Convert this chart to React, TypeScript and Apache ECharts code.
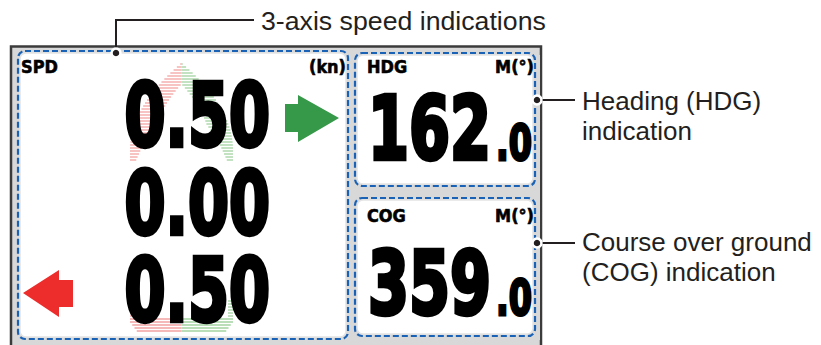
import React, { useEffect, useRef } from 'react';
import * as echarts from 'echarts';

// Displayed values
const speedValues = ['0.50', '0.00', '0.50'];
const headingValue = ['162', '.0'];
const cogValue = ['359', '.0'];
const panelTitles = ['SPD', 'HDG', 'COG'];
const panelUnits = ['(kn)', 'M(°)', 'M(°)'];
const calloutTop = ['3-axis speed indications'];
const calloutHdg = ['Heading (HDG)', 'indication'];
const calloutCog = ['Course over ground', '(COG) indication'];

const DIGIT_FONT = '"DejaVu Sans", sans-serif';
const LABEL_FONT = '"Liberation Sans", Arial, sans-serif';
const INK = '#231f20';
const BLUE = '#1a62b5';
const RED_STRIPE = '#f3a2a2';
const GREEN_STRIPE = '#a3d3a0';
const FRAME = '#d8d8d8';

function txt(x: number, y: number, text: string, size: number, opts: any = {}) {
  const align = opts.align || 'left';
  return {
    type: 'text',
    x,
    y,
    scaleX: opts.scaleX ?? 1,
    z: opts.z ?? 10,
    style: {
      text,
      fill: opts.fill || '#000',
      stroke: opts.stroke,
      lineWidth: opts.lineWidth,
      fontSize: size,
      fontWeight: opts.weight || 'bold',
      fontFamily: opts.family || DIGIT_FONT,
      lineHeight: opts.lineHeight,
      align,
      textAlign: align,
      verticalAlign: opts.valign || 'middle',
      textVerticalAlign: opts.valign || 'middle',
    },
  };
}

function stripe(g: any[], y: number, a: number, b: number, color: string) {
  if (b - a < 0.5) return;
  g.push({ type: 'line', z: 3, shape: { x1: a, y1: y, x2: b, y2: y }, style: { stroke: color, lineWidth: 1.3 } });
}

function buildGraphic() {
  const g: any[] = [];
  // outer display frame
  g.push({ type: 'rect', z: 1, shape: { x: 11, y: 46.5, width: 530, height: 320 }, style: { fill: FRAME, stroke: '#3b3b3b', lineWidth: 2.5 } });

  // panels: [x, y, w, h]
  const panels = [
    [18, 51, 330, 288],
    [355, 53, 180, 133],
    [355, 198, 180, 138],
  ];
  panels.forEach(([x, y, w, h]) => {
    g.push({ type: 'rect', z: 2, shape: { x: x + 2, y: y + 2, width: w - 4, height: h - 4, r: 6 }, style: { fill: '#ffffff', stroke: '#e4e4e4', lineWidth: 1.5 } });
  });

  // ship silhouette stripes (bow): striped hull band, solid at the tip
  const cx = 181.5;
  const half = 51.5;
  for (let y = 64; y <= 162; y += 3) {
    const t = Math.min(1, (y - 63) / 87);
    const w = half * (1 - Math.pow(1 - t, 2));
    const band = y < 125 ? 22 : 22 - (y - 125) * 0.45;
    const inner = Math.max(0, w - band);
    stripe(g, y, cx - w, cx - inner, RED_STRIPE);
    stripe(g, y, cx + inner, cx + w, GREEN_STRIPE);
  }
  // stern
  for (let y = 301; y <= 331; y += 3) {
    if (y < 318) {
      stripe(g, y, cx - half, cx - half + 5, RED_STRIPE);
      stripe(g, y, cx + half - 5, cx + half, GREEN_STRIPE);
    } else {
      const w = half - Math.max(0, y - 322) * 0.75;
      stripe(g, y, cx - w, cx, RED_STRIPE);
      stripe(g, y, cx, cx + w, GREEN_STRIPE);
    }
  }

  // arrows
  g.push({ type: 'polygon', z: 4, shape: { points: [[285, 104], [298, 104], [298, 95], [339, 118], [298, 142], [298, 132], [285, 132]] }, style: { fill: '#36994a' } });
  g.push({ type: 'polygon', z: 4, shape: { points: [[73, 280], [59, 280], [59, 270], [23, 293], [59, 317], [59, 307], [73, 307]] }, style: { fill: '#ec2d2c' } });

  // speed numbers
  const rowsY = [115, 203.5, 290];
  const big = { scaleX: 0.67, stroke: '#000', lineWidth: 4.5 };
  speedValues.forEach((v, i) => {
    g.push(txt(124.5, rowsY[i], v, 88, big));
  });

  // heading / cog numbers
  const small = { scaleX: 0.67, stroke: '#000', lineWidth: 3 };
  g.push(txt(368, 128.5, headingValue[0], 88, big));
  g.push(txt(496, 143, headingValue[1], 50, small));
  g.push(txt(368, 283.5, cogValue[0], 88, big));
  g.push(txt(496, 298, cogValue[1], 50, small));

  // panel titles & units
  const lbl = { scaleX: 0.95, stroke: '#000', lineWidth: 0.6 };
  g.push(txt(21, 67, panelTitles[0], 17, lbl));
  g.push(txt(346, 67, panelUnits[0], 17, { ...lbl, align: 'right' }));
  g.push(txt(367, 67, panelTitles[1], 17, lbl));
  g.push(txt(534, 67, panelUnits[1], 17, { ...lbl, align: 'right' }));
  g.push(txt(367, 216, panelTitles[2], 17, lbl));
  g.push(txt(534, 216, panelUnits[2], 17, { ...lbl, align: 'right' }));

  // clip strip at right edge of heading panels
  g.push({ type: 'rect', z: 11, shape: { x: 534, y: 55, width: 6, height: 285 }, style: { fill: FRAME } });

  // dashed borders
  panels.forEach(([x, y, w, h]) => {
    g.push({ type: 'rect', z: 12, shape: { x, y, width: w, height: h, r: 7 }, style: { fill: 'none', stroke: BLUE, lineWidth: 2.2, lineDash: [6, 3] } });
  });

  // callout leader lines
  const leader = { stroke: INK, lineWidth: 2 };
  g.push({ type: 'polyline', z: 13, shape: { points: [[116, 53], [116, 20], [254, 20]] }, style: { ...leader, fill: 'none' } });
  g.push({ type: 'line', z: 13, shape: { x1: 537, y1: 100, x2: 575, y2: 100 }, style: leader });
  g.push({ type: 'line', z: 13, shape: { x1: 537, y1: 243, x2: 575, y2: 243 }, style: leader });
  [[116, 53], [537, 100], [537, 243]].forEach(([x, y]) => {
    g.push({ type: 'circle', z: 14, shape: { cx: x, cy: y, r: 4.5 }, style: { fill: INK, stroke: '#ffffff', lineWidth: 2.5 } });
  });

  // callout texts
  const lab = { weight: 'normal', family: LABEL_FONT, fill: INK, lineHeight: 30 };
  g.push(txt(261, 21, calloutTop[0], 26.7, lab));
  g.push(txt(582, 116, calloutHdg.join('\n'), 26, lab));
  g.push(txt(582, 257, calloutCog.join('\n'), 26, lab));
  return g;
}

export default function App() {
  const ref = useRef<HTMLDivElement>(null);
  useEffect(() => {
    document.body.style.margin = '0';
    const chart = echarts.init(ref.current!, undefined, { renderer: 'svg' });
    chart.setOption({
      animation: false,
      backgroundColor: '#ffffff',
      graphic: { elements: buildGraphic() },
    });
    return () => chart.dispose();
  }, []);
  return <div ref={ref} style={{ position: 'fixed', left: 0, top: 0, width: 821, height: 345 }} />;
}
